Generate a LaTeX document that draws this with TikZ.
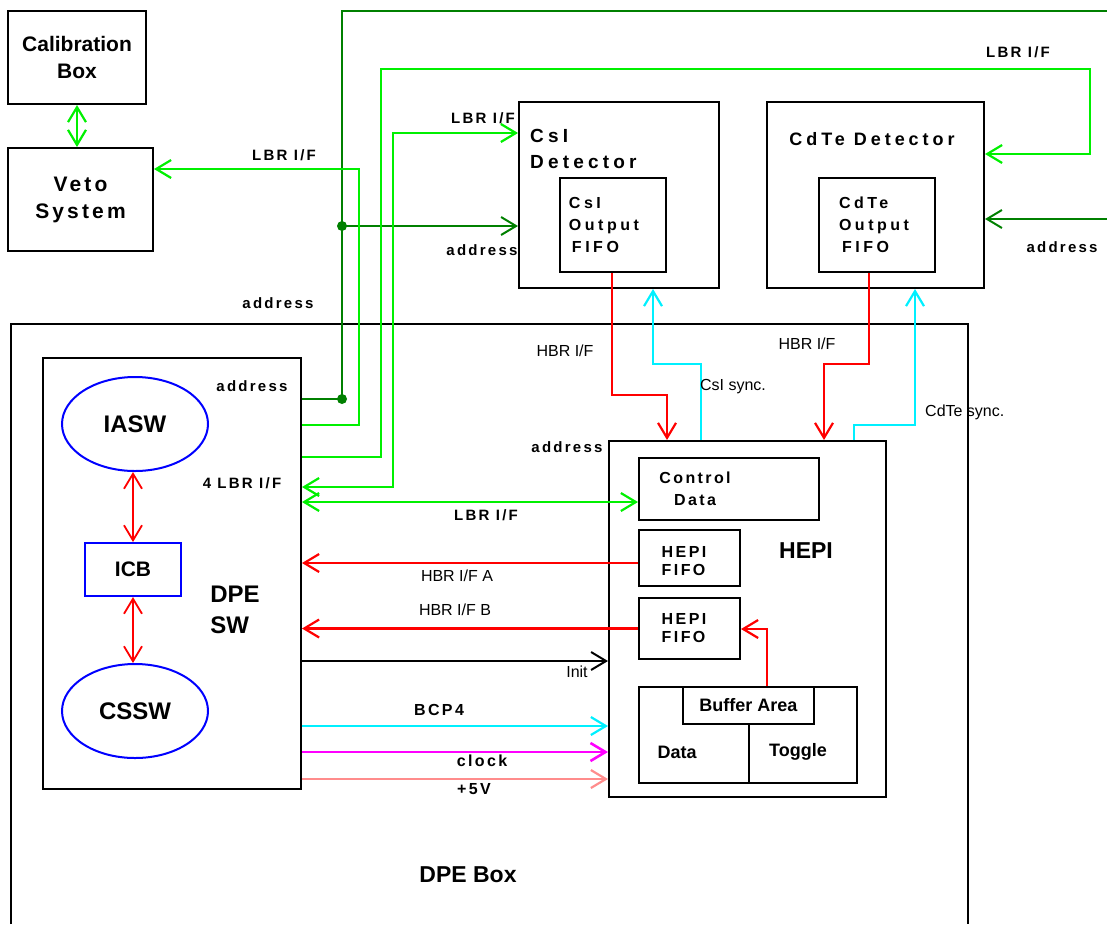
\documentclass[tikz,border=0pt]{standalone}
\usepackage{fontspec}
\setmainfont{Liberation Sans}
\newfontfamily\spfont{Liberation Sans}[LetterSpace=15]
\newfontfamily\wdfont{Liberation Sans}[LetterSpace=22]
\usepackage{tikz}
\usetikzlibrary{arrows.meta, shapes.geometric}
\definecolor{lbrgreen}{RGB}{0,240,0}
\definecolor{addrgreen}{RGB}{0,128,0}
\definecolor{pwrpink}{RGB}{255,140,140}
\definecolor{synccyan}{RGB}{0,240,255}
\definecolor{clkmagenta}{RGB}{255,0,255}
\definecolor{swblue}{RGB}{0,0,255}
\definecolor{hbrred}{RGB}{255,0,0}
\tikzset{
  box/.style={draw, line width=2pt, anchor=north west, inner sep=0pt},
  swpart/.style={draw=swblue, line width=2pt, inner sep=0pt, font=\bfseries\fontsize{24}{26}\selectfont},
  lbr/.style={lbrgreen, line width=2.2pt},
  addr/.style={addrgreen, line width=2pt},
  hbr/.style={hbrred, line width=2.2pt},
  sync/.style={synccyan, line width=2.2pt},
  lbl/.style={inner sep=0pt, font=\spfont\bfseries\fontsize{15}{18}\selectfont},
  thinlbl/.style={inner sep=0pt, font=\fontsize{16}{18}\selectfont},
  boxtxt/.style={inner sep=0pt, align=left, font=\wdfont\bfseries\fontsize{16}{22}\selectfont},
}

\begin{document}
\begin{tikzpicture}[x=1pt, y=-1pt, >={Straight Barb[length=15pt, width=18pt]}]
    \useasboundingbox (0,0) rectangle (1107,924);
    % outside the DPE
    \node[box, minimum width=138, minimum height=93, align=center,
          font=\bfseries\fontsize{21}{27}\selectfont] (calib) at (7,10) {Calibration\\Box};
    \node[box, minimum width=145, minimum height=103, align=center,
          font=\spfont\bfseries\fontsize{21}{27}\selectfont] (veto) at (7,147) {Veto\\System};
    \node[box, minimum width=200, minimum height=186] (csi) at (518,101) {};
    \node[box, minimum width=106, minimum height=94] (csififo) at (559,177) {};
    \node[box, minimum width=217, minimum height=186] (cdte) at (766,101) {};
    \node[box, minimum width=116, minimum height=94] (cdtefifo) at (818,177) {};
    \node[anchor=north west, inner sep=0pt, align=left,
          font=\wdfont\bfseries\fontsize{19}{26}\selectfont] (csititle) at (530,129) {CsI\\Detector};
    \node[inner sep=0pt, font=\wdfont\bfseries\fontsize{18}{22}\selectfont] (cdtetitle) at (872,139) {CdTe Detector};
    \node[boxtxt] (csififotxt) at ([xshift=-9pt]csififo.center) {CsI\\Output\\\hspace{3pt}FIFO};
    \node[boxtxt] (cdtefifotxt) at ([xshift=-3pt]cdtefifo.center) {CdTe\\Output\\\hspace{3pt}FIFO};

    % DPE box and software
    \draw[line width=2pt] (11,924) -- (11,324) -- (968,324) -- (968,924);
    \node[inner sep=0pt, font=\bfseries\fontsize{23}{26}\selectfont] (dpeboxlbl) at (468,875) {DPE Box};
    \node[box, minimum width=258, minimum height=431] (dpesw) at (42,357) {};
    \node[swpart, ellipse, minimum width=146, minimum height=94] (iasw) at (135,424) {IASW};
    \node[swpart, box, draw=swblue, minimum width=96, minimum height=53,
          font=\bfseries\fontsize{21}{24}\selectfont] (icb) at (84,542) {ICB};
    \node[swpart, ellipse, minimum width=146, minimum height=94] (cssw) at (135,711) {CSSW};
    \node[inner sep=0pt, align=left, font=\bfseries\fontsize{24}{31}\selectfont] (dpeswlbl) at (235,610) {DPE\\SW};
    \draw[hbr, line width=1.8pt, <->] (icb.north |- iasw.south) -- (icb.north);
    \draw[hbr, line width=1.8pt, <->] (icb.south) -- (icb.south |- cssw.north);

    % HEPI
    \node[box, minimum width=277, minimum height=356] (hepi) at (608,440) {};
    \node[box, minimum width=180, minimum height=62] (ctrl) at (638,457) {};
    \node[box, minimum width=101, minimum height=56] (fifoA) at (638,529) {};
    \node[box, minimum width=101, minimum height=61] (fifoB) at (638,597) {};
    \node[box, minimum width=218, minimum height=96] (buffer) at (638,686) {};
    \node[box, minimum width=131, minimum height=37,
          font=\bfseries\fontsize{18}{20}\selectfont] (bufarea) at (682,686) {Buffer Area};
    \draw[line width=2pt] (bufarea.south) -- (bufarea.south |- buffer.south);
    \node[inner sep=0pt, font=\bfseries\fontsize{18}{20}\selectfont] (datalbl) at (677,752) {Data};
    \node[inner sep=0pt, font=\bfseries\fontsize{18}{20}\selectfont] (togglelbl) at (798,752) {Toggle};
    \node[boxtxt, align=center, font=\spfont\bfseries\fontsize{16}{22}\selectfont] (ctrltxt) at (695,489) {Control\\Data};
    \node[boxtxt, font=\spfont\bfseries\fontsize{16}{18}\selectfont] (fifoAtxt) at (684,561) {HEPI\\FIFO};
    \node[boxtxt, font=\spfont\bfseries\fontsize{16}{18}\selectfont] (fifoBtxt) at (684,628) {HEPI\\FIFO};
    \node[inner sep=0pt, font=\bfseries\fontsize{23}{26}\selectfont] (hepilbl) at (806,551) {HEPI};

    % address bus
    \coordinate (adJ) at (342,399);
    \coordinate (adC) at (342,226);
    \coordinate (adT) at (342,11);
    \coordinate (adE) at (1107,11);
    \coordinate (adR) at (1107,219);
    \draw[addr] (dpesw.east |- adJ) -- (adJ) -- (adT) -- (adE);
    \draw[addr, ->] (adC) -- (csi.west |- adC);
    \draw[addr, ->] (adR) -- (cdte.east |- adR);
    \fill[addrgreen] (adJ) circle (5pt) (adC) circle (5pt);

    % LBR lines
    \coordinate (vL) at (359,425);
    \coordinate (vT) at (359,169);
    \draw[lbr, ->] (dpesw.east |- vL) -- (vL) -- (vT) -- (veto.east |- vT);
    \coordinate (cL) at (381,457);
    \coordinate (cT) at (381,69);
    \coordinate (cR) at (1090,69);
    \coordinate (cE) at (1090,154);
    \draw[lbr, ->] (dpesw.east |- cL) -- (cL) -- (cT) -- (cR) -- (cE) -- (cdte.east |- cE);
    \coordinate (sL) at (393,487);
    \coordinate (sT) at (393,133);
    \draw[lbr, <->] (dpesw.east |- sL) -- (sL) -- (sT) -- (csi.west |- sT);
    \coordinate (ctrlIn) at (638,502);
    \draw[lbr, <->] (dpesw.east |- ctrlIn) -- (ctrlIn);
    \draw[lbr, <->] (calib.south) -- (calib.south |- veto.north);

    % HBR and sync
    \coordinate (r1a) at (612,395);
    \coordinate (r1b) at (667,395);
    \draw[hbr, ->] (csififo.south -| r1a) -- (r1a) -- (r1b) -- (r1b |- hepi.north);
    \coordinate (s1a) at (701,364);
    \coordinate (s1b) at (653,364);
    \draw[sync, ->] (s1a |- hepi.north) -- (s1a) -- (s1b) -- (s1b |- csi.south);
    \coordinate (r2a) at (869,364);
    \coordinate (r2b) at (824,364);
    \draw[hbr, ->] (cdtefifo.south -| r2a) -- (r2a) -- (r2b) -- (r2b |- hepi.north);
    \coordinate (s2a) at (854,425);
    \coordinate (s2b) at (915,425);
    \draw[sync, ->] (s2a |- hepi.north) -- (s2a) -- (s2b) -- (s2b |- cdte.south);
    \coordinate (bf) at (767,629);
    \draw[hbr, ->] (bufarea.north -| bf) -- (bf) -- (fifoB.east |- bf);
    \coordinate (hbrA) at (638,563);
    \draw[hbr, ->] (hbrA) -- (dpesw.east |- hbrA);
    \draw[hbr, ->] (fifoB.west) -- (dpesw.east |- fifoB.west);

    % DPE SW to HEPI
    \coordinate (hInit) at (608,661);
    \coordinate (hBcp) at (608,726);
    \coordinate (hClk) at (608,752);
    \coordinate (hPwr) at (608,779);
    \draw[line width=2pt, ->] (dpesw.east |- hInit) -- (hInit);
    \draw[sync, ->] (dpesw.east |- hBcp) -- (hBcp);
    \draw[clkmagenta, line width=2.6pt, ->] (dpesw.east |- hClk) -- (hClk);
    \draw[pwrpink, line width=2.2pt, ->] (dpesw.east |- hPwr) -- (hPwr);

    % labels
    \node[lbl] (l1) at (284,155) {LBR I/F};
    \node[lbl] (l2) at (483,118) {LBR I/F};
    \node[lbl] (l3) at (1018,52) {LBR I/F};
    \node[lbl] (l4) at (486,515) {LBR I/F};
    \node[lbl] (l5) at (242,483) {4 LBR I/F};
    \node[lbl] (a1) at (482,250) {address};
    \node[lbl] (a2) at (278,303) {address};
    \node[lbl] (a3) at (1062,247) {address};
    \node[lbl] (a4) at (252,386) {address};
    \node[lbl] (a5) at (567,447) {address};
    \node[thinlbl] (h1) at (565,351) {HBR I/F};
    \node[thinlbl] (h2) at (807,344) {HBR I/F};
    \node[thinlbl] (h3) at (457,576) {HBR I/F A};
    \node[thinlbl] (h4) at (455,610) {HBR I/F B};
    \node[thinlbl] (y1) at (733,387) {CsI sync.};
    \node[thinlbl, anchor=west] (y2) at (925,412) {CdTe sync.};
    \node[thinlbl] (i1) at (577,672) {Init};
    \node[lbl, font=\spfont\bfseries\fontsize{16}{18}\selectfont] (b1) at (439,710) {BCP4};
    \node[lbl, font=\spfont\bfseries\fontsize{16}{18}\selectfont] (c1) at (482,761) {clock};
    \node[lbl, font=\spfont\bfseries\fontsize{16}{18}\selectfont] (p1) at (474,789) {+5V};
\end{tikzpicture}
\end{document}
